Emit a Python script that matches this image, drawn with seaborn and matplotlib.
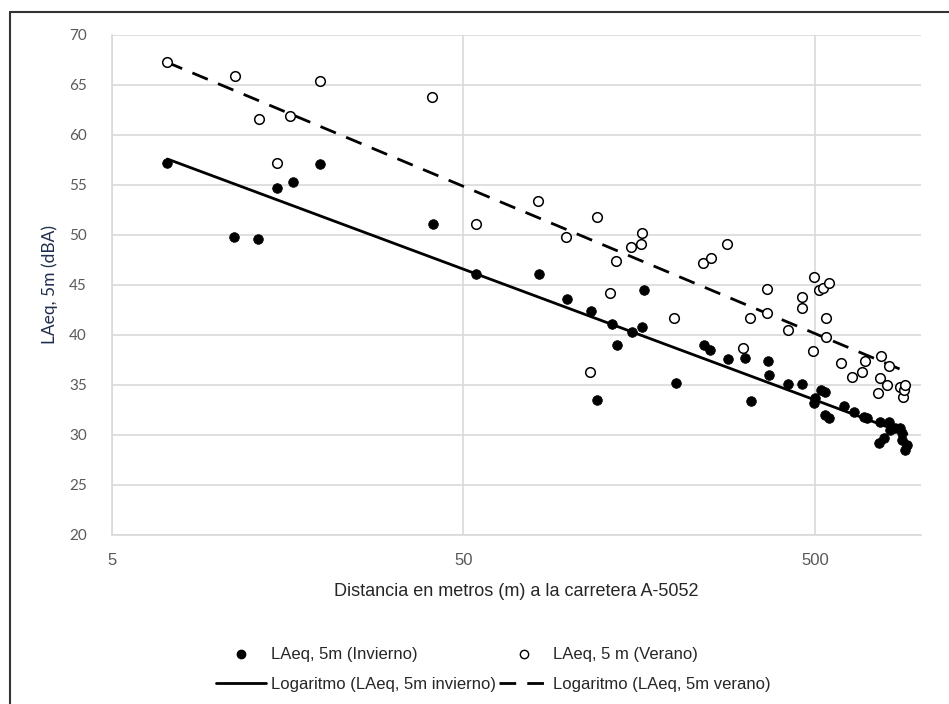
import numpy as np
import pandas as pd
import matplotlib
matplotlib.use("Agg")
import matplotlib.pyplot as plt
from matplotlib.lines import Line2D
import seaborn as sns

# distancia (m) y LAeq (dBA)
dist_invierno = [7.2, 11.1, 13.0, 14.8, 16.4, 19.5, 41.1, 54.4, 82.2, 98.6, 115, 120,
                 132, 137, 151, 161, 163, 201, 242, 251, 283, 316, 328, 368, 369,
                 419, 459, 496, 501, 518, 535, 535, 547, 603, 644, 687, 702, 758,
                 767, 783, 809, 818, 845, 874, 883, 883, 903, 912]
laeq_invierno = [57.2, 49.8, 49.6, 54.7, 55.3, 57.1, 51.1, 46.1, 46.1, 43.6, 42.4, 33.5,
                 41.1, 39.0, 40.3, 40.8, 44.5, 35.2, 39.0, 38.5, 37.6, 37.7, 33.4, 37.4, 36.0,
                 35.1, 35.1, 33.2, 33.7, 34.5, 34.3, 32.0, 31.7, 32.9, 32.3, 31.8, 31.7, 29.2,
                 31.3, 29.7, 31.3, 30.5, 30.7, 30.7, 30.2, 29.5, 28.5, 29.0]

dist_verano = [7.17, 11.2, 13.1, 14.8, 16.1, 19.5, 40.8, 54.3, 81.6, 98.0, 114.7, 120,
               130.7, 135.6, 149.6, 159.7, 161.4, 198.6, 240.5, 252.4, 281, 312, 325.6,
               365, 365, 419, 458, 458, 494, 496, 512, 526, 537, 537, 547, 594, 635,
               680, 695, 755, 767, 772, 800, 813, 874, 887, 893, 903]
laeq_verano = [67.3, 65.9, 61.6, 57.2, 61.9, 65.4, 63.8, 51.1, 53.4, 49.8, 36.3, 51.8,
               44.2, 47.4, 48.8, 49.1, 50.2, 41.7, 47.2, 47.7, 49.1, 38.7, 41.7,
               44.6, 42.2, 40.5, 43.8, 42.7, 38.4, 45.8, 44.5, 44.7, 41.7, 39.8, 45.2, 37.2, 35.8,
               36.3, 37.4, 34.2, 35.7, 37.9, 35.0, 36.9, 34.8, 33.8, 34.5, 35.0]

y_ticks = [20, 25, 30, 35, 40, 45, 50, 55, 60, 65, 70]
x_ticks = [5, 50, 500]

df_inv = pd.DataFrame({"x": dist_invierno, "y": laeq_invierno})
df_ver = pd.DataFrame({"x": dist_verano, "y": laeq_verano})


# linea de tendencia logaritmica (como en Excel): y = a + b*ln(x)
def tendencia(df):
    b, a = np.polyfit(np.log(df["x"]), df["y"], 1)
    xs = np.geomspace(df["x"].min(), df["x"].max(), 60)
    return pd.DataFrame({"x": xs, "y": a + b * np.log(xs)})


sns.set_theme(style="white")
narrow = ["Liberation Sans", "DejaVu Sans"]
calib = ["Lato", "DejaVu Sans"]

fig = plt.figure(figsize=(9.49, 7.04), dpi=100)
ax = fig.add_axes([0.1177, 0.2401, 0.8528, 0.7102])

sns.lineplot(data=tendencia(df_inv), x="x", y="y", ax=ax, color="black", lw=2.0, zorder=3)
sns.lineplot(data=tendencia(df_ver), x="x", y="y", ax=ax, color="black", lw=2.0,
             dashes=False, zorder=3).lines[-1].set_dashes([6, 4])
sns.scatterplot(data=df_inv, x="x", y="y", ax=ax, color="black", edgecolor="black",
                s=48, zorder=4)
sns.scatterplot(data=df_ver, x="x", y="y", ax=ax, facecolor="white", edgecolor="black",
                linewidth=1.1, s=48, zorder=4)

ax.set_xscale("log")
ax.set_xlim(5, 1000)
ax.set_ylim(20, 70)
ax.set_xticks(x_ticks)
ax.set_xticklabels([str(t) for t in x_ticks])
ax.xaxis.set_minor_locator(matplotlib.ticker.NullLocator())
ax.set_yticks(y_ticks)
ax.grid(True, color="#d9d9d9", lw=1.2)
for s in ["top", "right"]:
    ax.spines[s].set_visible(False)
for s in ["left", "bottom"]:
    ax.spines[s].set_color("#d9d9d9")
    ax.spines[s].set_linewidth(1.2)
ax.tick_params(axis="y", length=0, colors="#595959", labelsize=11, pad=18)
ax.tick_params(axis="x", length=0, colors="#595959", labelsize=12, pad=13)
for lab in ax.get_xticklabels():
    lab.set_family(narrow)
for lab in ax.get_yticklabels():
    lab.set_family(calib)

ax.set_xlabel("Distancia en metros (m) a la carretera A-5052", family=narrow,
              fontsize=13, color="#262626", labelpad=11)
ax.set_ylabel("LAeq, 5m (dBA)", family=calib, fontsize=12.5, color="#1f2d4d", labelpad=8)

handles = [
    Line2D([], [], ls="", marker="o", color="black", markersize=6),
    Line2D([], [], color="black", lw=2.0),
    Line2D([], [], ls="", marker="o", markerfacecolor="white", markeredgecolor="black",
           markersize=6),
    Line2D([], [], color="black", lw=2.0, dashes=[6, 4]),
]
labels = ["LAeq, 5m (Invierno)", "Logaritmo (LAeq, 5m invierno)",
          "LAeq, 5 m (Verano)", "Logaritmo (LAeq, 5m verano)"]
fig.legend(handles, labels, ncol=2, loc="center", bbox_to_anchor=(0.52, 0.049),
           frameon=False, prop={"family": narrow, "size": 12}, handlelength=3.0,
           columnspacing=0.2, handletextpad=0.25, labelspacing=0.85, labelcolor="#262626")

# marco exterior del grafico
fig.add_artist(Line2D([10 / 949, 10 / 949], [0, 1 - 12 / 704], color="#333333", lw=1.5,
                      transform=fig.transFigure))
fig.add_artist(Line2D([10 / 949, 1], [1 - 12 / 704, 1 - 12 / 704], color="#333333", lw=1.5,
                      transform=fig.transFigure))

fig.savefig("out.png", dpi=100)
